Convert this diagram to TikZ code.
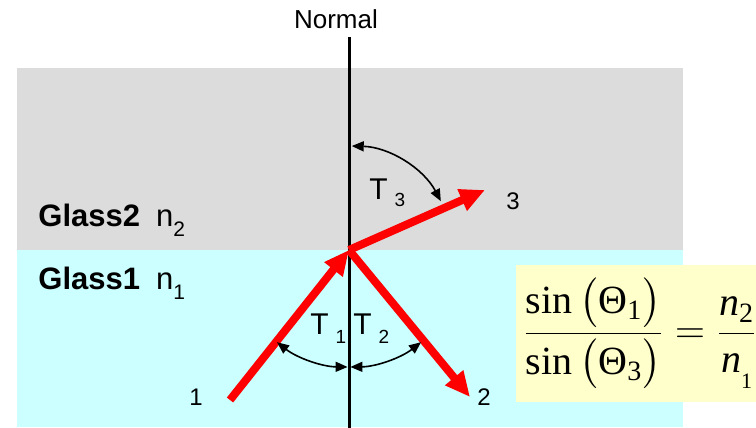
\documentclass[tikz,border=0pt]{standalone}
\usepackage{fontspec}
\usepackage{amsmath}
\setmainfont{Liberation Sans}
\newfontfamily\timesfont{Liberation Serif}
\usetikzlibrary{arrows.meta,calc}

\definecolor{glassupper}{RGB}{220,220,220}
\definecolor{glasslower}{RGB}{204,255,255}
\definecolor{lawbg}{RGB}{255,255,204}

% small lowered index next to a letter
\newcommand{\lowidx}[3]{\raisebox{-#1}{\fontsize{#2}{#2}\selectfont #3}}

\begin{document}
\begin{tikzpicture}[
  x=0.5pt, y=0.5pt,
  ray/.style={draw=red, line width=4pt, -{Triangle[length=12.5pt,width=11pt]}},
  ang/.style={line width=0.8pt,
              {Triangle[length=6pt,width=5pt]}-{Triangle[length=6pt,width=5pt]}},
  lbl/.style={font=\fontsize{12}{14}\selectfont, inner sep=0pt, anchor=base west},
  tlbl/.style={font=\fontsize{15}{17}\selectfont, inner sep=0pt, anchor=base west},
  glass/.style={font=\fontsize{15.5}{18}\selectfont, inner sep=0pt, anchor=base west},
  law/.style={fill=lawbg, inner xsep=3.5pt, inner ysep=0pt, minimum height=68.5pt,
              anchor=west, font=\timesfont\fontsize{20}{24}\selectfont},
]
  \useasboundingbox (0,0) rectangle (756,428);
  \clip (0,0) rectangle (756,428);

  % the two glasses
  \fill[glasslower] (17,1) rectangle (683,178);
  \fill[glassupper] (17,178) rectangle (683,360);

  % normal and ray end points
  \coordinate (O) at (349,178);
  \coordinate (ntop) at (349,391);
  \coordinate (nbot) at (349,0);
  \coordinate (r1) at (230,28);
  \coordinate (r2) at (470,31);
  \coordinate (r3) at (485,238);

  \draw[line width=1.5pt] (ntop) -- (nbot);
  \node[font=\fontsize{13}{15}\selectfont, inner sep=0pt, anchor=base] (normal) at (336,399) {Normal};

  % rays
  \draw[ray] (r1) -- (O);
  \draw[ray] (O) -- (r2);
  \draw[ray] (O) -- (r3);
  \node[lbl] (l1) at (189,22) {1};
  \node[lbl] (l2) at (477,22) {2};
  \node[lbl] (l3) at (506,218) {3};

  % angles
  \draw[ang] ([shift={(232:58.5pt)}]O) arc[start angle=232, end angle=269.3, radius=58.5pt];
  \draw[ang] ([shift={(270.7:58.5pt)}]O) arc[start angle=270.7, end angle=308, radius=58.5pt];
  \draw[ang] ([shift={(88.5:52pt)}]O) arc[start angle=88.5, end angle=28, radius=52pt];
  \node[tlbl] (t1) at (310,93) {T\kern3.5pt\lowidx{4.5pt}{9.5}{1}};
  \node[tlbl] (t2) at (353,93) {T\kern3.5pt\lowidx{4.5pt}{9.5}{2}};
  \node[tlbl] (t3) at (369,228) {T\kern3.5pt\lowidx{3.5pt}{9.5}{3}};

  % glass names
  \node[glass] (g2) at (38,201) {\textbf{Glass2}\hspace{8pt}n\lowidx{5pt}{10.5}{2}};
  \node[glass] (g1) at (38,138) {\textbf{Glass1}\hspace{8pt}n\lowidx{5pt}{10.5}{1}};

  % Snell's law
  \node[law] (law) at (516,94.5)
    {$\dfrac{\mbox{sin}\,\bigl(\mbox{Θ\textsubscript{1}}\bigr)}{\mbox{sin}\,\bigl(\mbox{Θ\textsubscript{3}}\bigr)}
      =\dfrac{\mbox{{\itshape n}\textsubscript{2}}}{\mbox{{\itshape n}\lowidx{8pt}{11}{1}}}$};
\end{tikzpicture}
\end{document}
